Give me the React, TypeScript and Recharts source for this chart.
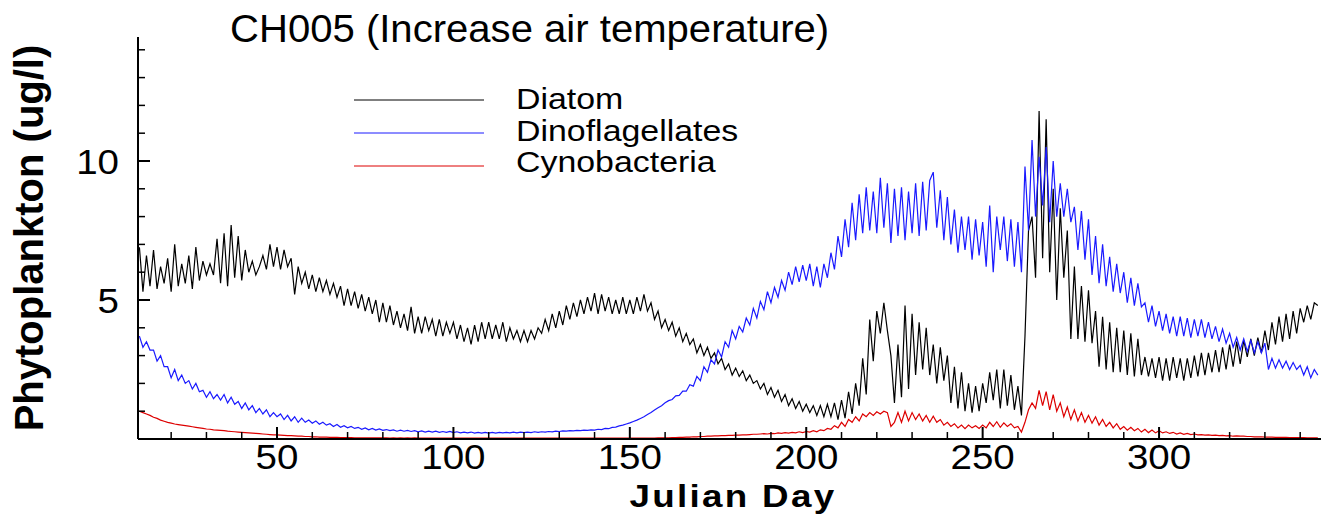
import React from "react";
import { LineChart, Line, XAxis, YAxis } from "recharts";

// daily values, starting at Julian day 11
const FIRST_DAY = 11;

const diatom = [
  6.9, 5.3, 6.6, 5.5, 6.8, 5.4, 6.2, 5.6, 6.5, 5.3,
  7.0, 5.5, 6.3, 5.6, 6.6, 5.4, 6.9, 5.7, 6.4, 5.9,
  6.3, 5.9, 7.2, 5.6, 7.4, 5.5, 7.7, 5.8, 7.3, 5.7,
  6.8, 6.0, 6.4, 5.9, 6.2, 6.6, 6.1, 7.0, 6.2, 6.9,
  6.1, 6.8, 6.2, 6.5, 5.2, 6.2, 5.6, 6.0, 5.4, 5.9,
  5.3, 5.8, 5.3, 5.7, 5.2, 5.6, 5.1, 5.5, 4.8, 5.4,
  4.8, 5.3, 4.7, 5.2, 4.6, 5.1, 4.5, 5.0, 4.2, 4.9,
  4.2, 4.8, 4.1, 4.6, 4.0, 4.5, 3.9, 4.75, 3.8, 4.4,
  3.8, 4.4, 3.9, 4.3, 3.7, 4.3, 3.7, 4.2, 3.8, 4.2,
  3.6, 4.1, 3.5, 4.0, 3.4, 4.1, 3.5, 4.2, 3.6, 4.2,
  3.6, 4.1, 3.6, 4.2, 3.5, 4.0, 3.6, 3.9, 3.5, 3.9,
  3.5, 3.9, 3.6, 4.0, 3.8, 4.3, 3.9, 4.5, 4.0, 4.6,
  4.1, 4.8, 4.3, 4.9, 4.4, 5.0, 4.5, 5.1, 4.6, 5.25,
  4.5, 5.2, 4.6, 5.1, 4.5, 5.0, 4.5, 5.1, 4.5, 5.0,
  4.5, 5.1, 4.6, 5.2, 4.6, 4.9, 4.3, 4.6, 4.0, 4.3,
  3.9, 4.2, 3.7, 4.0, 3.5, 3.8, 3.4, 3.6, 3.1, 3.4,
  3.0, 3.3, 2.9, 3.1, 2.7, 2.9, 2.5, 2.7, 2.3, 2.55,
  2.25, 2.45, 2.1, 2.3, 2.0, 2.1, 1.8, 2.0, 1.6, 1.85,
  1.5, 1.75, 1.35, 1.6, 1.2, 1.45, 1.1, 1.35, 1.0, 1.25,
  0.95, 1.2, 0.85, 1.2, 0.8, 1.25, 0.8, 1.3, 0.7, 1.4,
  0.75, 1.7, 0.9, 2.0, 1.2, 2.9, 1.6, 4.3, 2.8, 4.6,
  3.8, 4.9, 3.9, 3.0, 1.3, 3.4, 1.5, 4.8, 1.8, 4.5,
  2.3, 4.2, 2.5, 4.0, 2.3, 3.4, 2.0, 3.3, 2.1, 3.0,
  1.3, 2.6, 1.1, 2.4, 1.0, 2.0, 0.95, 1.9, 1.0, 2.0,
  1.3, 2.4, 1.4, 2.5, 1.1, 2.5, 1.2, 2.3, 1.05, 1.9,
  0.85, 3.7, 7.5, 8.0, 5.8, 11.8, 6.5, 11.5, 6.0, 9.0,
  5.0, 8.3, 5.8, 7.5, 3.6, 6.2, 3.6, 5.5, 3.5, 5.35,
  3.45, 4.6, 2.6, 4.4, 2.5, 4.2, 2.4, 4.0, 2.4, 3.9,
  2.3, 3.8, 2.25, 3.6, 2.3, 2.95, 2.25, 2.9, 2.2, 2.95,
  2.1, 2.9, 2.1, 2.95, 2.2, 2.9, 2.1, 2.9, 2.2, 3.0,
  2.25, 3.1, 2.3, 3.1, 2.4, 3.2, 2.4, 3.3, 2.5, 3.4,
  2.6, 3.5, 2.7, 3.55, 2.95, 3.6, 3.0, 3.65, 3.1, 3.9,
  3.2, 4.2, 3.4, 4.4, 3.5, 4.5, 3.6, 4.6, 3.8, 4.7,
  4.2, 4.8, 4.3, 4.9, 4.8,
];

const dinoflagellates = [
  3.7, 3.3, 3.5, 3.2, 3.2, 2.8, 3.0, 2.6, 2.6, 2.2,
  2.5, 2.1, 2.3, 2.0, 2.1, 1.8, 2.0, 1.7, 1.75, 1.5,
  1.7, 1.45, 1.6, 1.4, 1.6, 1.3, 1.5, 1.25, 1.35, 1.1,
  1.3, 1.05, 1.2, 0.95, 1.1, 0.9, 1.05, 0.8, 0.95, 0.8,
  0.9, 0.7, 0.85, 0.65, 0.8, 0.6, 0.75, 0.6, 0.68, 0.57,
  0.65, 0.53, 0.6, 0.5, 0.55, 0.45, 0.52, 0.42, 0.48, 0.4,
  0.45, 0.38, 0.42, 0.35, 0.4, 0.33, 0.38, 0.32, 0.36, 0.31,
  0.34, 0.3, 0.33, 0.28, 0.32, 0.28, 0.31, 0.27, 0.3, 0.26,
  0.29, 0.25, 0.28, 0.25, 0.28, 0.24, 0.27, 0.24, 0.27, 0.23,
  0.26, 0.22, 0.25, 0.22, 0.25, 0.21, 0.24, 0.21, 0.24, 0.21,
  0.24, 0.21, 0.24, 0.22, 0.24, 0.22, 0.25, 0.22, 0.25, 0.23,
  0.25, 0.23, 0.26, 0.24, 0.26, 0.25, 0.27, 0.26, 0.28, 0.27,
  0.29, 0.28, 0.3, 0.29, 0.31, 0.3, 0.32, 0.31, 0.33, 0.32,
  0.35, 0.34, 0.38, 0.37, 0.42, 0.43, 0.47, 0.5, 0.54, 0.58,
  0.63, 0.68, 0.74, 0.8, 0.88, 0.95, 1.04, 1.12, 1.2, 1.3,
  1.38, 1.42, 1.55, 1.57, 1.72, 1.72, 1.95, 1.9, 2.25, 2.1,
  2.6, 2.4, 2.85, 2.7, 3.2, 2.95, 3.5, 3.3, 3.9, 3.6,
  4.05, 3.85, 4.35, 4.1, 4.7, 4.35, 4.95, 4.65, 5.3, 4.9,
  5.45, 5.1, 5.7, 5.35, 6.0, 5.55, 6.2, 5.65, 6.25, 5.7,
  6.3, 5.5, 6.2, 5.45, 6.3, 5.8, 6.7, 6.1, 7.3, 6.55,
  7.9, 6.9, 8.5, 7.15, 8.8, 7.4, 9.05, 7.5, 8.9, 7.4,
  9.4, 7.6, 9.2, 7.05, 9.0, 7.3, 9.05, 7.15, 8.9, 7.4,
  9.2, 7.3, 9.25, 7.5, 9.3, 9.6, 7.6, 8.95, 7.15, 8.7,
  7.0, 8.25, 6.7, 8.0, 6.8, 8.0, 6.45, 7.9, 6.6, 7.8,
  6.2, 8.4, 6.0, 8.0, 6.8, 8.0, 6.4, 7.9, 6.2, 7.8,
  6.0, 9.8, 7.5, 10.75, 8.0, 10.15, 8.4, 10.5, 7.8, 10.0,
  8.0, 9.2, 8.0, 9.0, 7.8, 8.35, 6.8, 8.2, 6.45, 7.9,
  5.9, 7.3, 5.6, 7.0, 5.5, 6.55, 5.3, 6.3, 5.25, 6.0,
  4.9, 5.8, 4.8, 5.6, 4.75, 4.9, 4.2, 4.8, 4.05, 4.6,
  3.9, 4.5, 3.8, 4.4, 3.7, 4.4, 3.7, 4.35, 3.65, 4.3,
  3.7, 4.3, 3.65, 4.2, 3.6, 4.05, 3.5, 3.95, 3.45, 3.8,
  3.3, 3.65, 3.2, 3.6, 3.15, 3.55, 3.1, 3.5, 3.1, 3.45,
  2.5, 2.9, 2.55, 2.85, 2.55, 2.8, 2.5, 2.75, 2.5, 2.65,
  2.3, 2.6, 2.2, 2.5, 2.3,
];

const cynobacteria = [
  1.0, 0.95, 0.9, 0.85, 0.78, 0.74, 0.68, 0.64, 0.6, 0.57,
  0.54, 0.52, 0.5, 0.48, 0.46, 0.44, 0.42, 0.4, 0.38, 0.36,
  0.35, 0.33, 0.32, 0.31, 0.3, 0.28, 0.27, 0.26, 0.25, 0.24,
  0.23, 0.22, 0.21, 0.2, 0.19, 0.18, 0.17, 0.16, 0.15, 0.15,
  0.14, 0.13, 0.12, 0.12, 0.11, 0.1, 0.1, 0.09, 0.09, 0.08,
  0.08, 0.07, 0.07, 0.07, 0.06, 0.06, 0.06, 0.05, 0.05, 0.05,
  0.05, 0.04, 0.04, 0.04, 0.04, 0.04, 0.04, 0.04, 0.04, 0.04,
  0.04, 0.03, 0.04, 0.03, 0.04, 0.03, 0.04, 0.03, 0.04, 0.03,
  0.03, 0.03, 0.03, 0.03, 0.03, 0.03, 0.03, 0.03, 0.03, 0.03,
  0.03, 0.03, 0.03, 0.03, 0.03, 0.03, 0.03, 0.03, 0.03, 0.03,
  0.03, 0.03, 0.03, 0.03, 0.03, 0.03, 0.03, 0.03, 0.03, 0.03,
  0.03, 0.03, 0.03, 0.03, 0.03, 0.03, 0.03, 0.03, 0.03, 0.03,
  0.03, 0.03, 0.03, 0.03, 0.03, 0.03, 0.03, 0.03, 0.03, 0.03,
  0.03, 0.03, 0.03, 0.03, 0.03, 0.03, 0.03, 0.03, 0.03, 0.03,
  0.03, 0.03, 0.03, 0.03, 0.03, 0.03, 0.03, 0.04, 0.04, 0.04,
  0.04, 0.05, 0.05, 0.06, 0.06, 0.07, 0.07, 0.08, 0.08, 0.09,
  0.09, 0.1, 0.1, 0.11, 0.11, 0.12, 0.12, 0.13, 0.13, 0.14,
  0.14, 0.15, 0.15, 0.16, 0.17, 0.17, 0.18, 0.19, 0.18, 0.2,
  0.19, 0.22, 0.2, 0.23, 0.21, 0.24, 0.22, 0.26, 0.23, 0.27,
  0.25, 0.3, 0.26, 0.33, 0.3, 0.38, 0.35, 0.48, 0.4, 0.6,
  0.45, 0.7, 0.6, 0.8, 0.65, 0.9, 0.8, 0.95, 0.85, 0.98,
  0.9, 1.0, 0.95, 0.45, 0.6, 0.95, 0.6, 1.0, 0.65, 0.95,
  0.7, 0.9, 0.65, 0.85, 0.6, 0.82, 0.6, 0.7, 0.5, 0.6,
  0.45, 0.55, 0.4, 0.5, 0.37, 0.5, 0.4, 0.48, 0.38, 0.5,
  0.4, 0.6, 0.45, 0.62, 0.42, 0.58, 0.45, 0.55, 0.4, 0.45,
  0.25, 0.6, 1.05, 1.3, 1.1, 1.75, 1.2, 1.7, 1.05, 1.6,
  1.0, 1.3, 0.8, 1.15, 0.7, 1.05, 0.65, 0.95, 0.6, 0.85,
  0.57, 0.8, 0.5, 0.7, 0.45, 0.6, 0.4, 0.55, 0.35, 0.45,
  0.32, 0.42, 0.3, 0.38, 0.25, 0.35, 0.23, 0.32, 0.22, 0.3,
  0.22, 0.26, 0.2, 0.24, 0.18, 0.22, 0.17, 0.2, 0.16, 0.18,
  0.15, 0.16, 0.14, 0.15, 0.13, 0.14, 0.12, 0.13, 0.11, 0.12,
  0.1, 0.11, 0.1, 0.1, 0.09, 0.09, 0.08, 0.08, 0.08, 0.07,
  0.07, 0.07, 0.06, 0.06, 0.06, 0.06, 0.05, 0.05, 0.05, 0.05,
  0.05, 0.04, 0.04, 0.04, 0.04,
];

const xTicks = [20, 30, 40, 50, 60, 70, 80, 90, 100, 110, 120, 130, 140, 150, 160, 170, 180, 190, 200, 210, 220, 230, 240, 250, 260, 270, 280, 290, 300, 310, 320, 330, 340];
const xLabels = [50, 100, 150, 200, 250, 300];
const yTicks = [1, 2, 3, 4, 5, 6, 7, 8, 9, 10, 11, 12, 13, 14];
const yLabels = [5, 10];

const seriesNames = ["Diatom", "Dinoflagellates", "Cynobacteria"];
const seriesKeys = ["diatom", "dino", "cyno"];
const seriesColors = ["#000000", "#1a1aff", "#dd0000"];

const data = diatom.map((d, i) => ({
  day: FIRST_DAY + i,
  diatom: d,
  dino: dinoflagellates[i],
  cyno: cynobacteria[i],
}));

const FONT = "'Liberation Sans', Arial, Helvetica, sans-serif";

// the source plot stretches its glyphs a bit sideways
const Stretched = ({ x, y, sx, anchor, size, bold, spacing, children }: any) => (
  <text
    transform={`translate(${x},${y}) scale(${sx},1)`}
    textAnchor={anchor || "start"}
    fontSize={size}
    fontWeight={bold ? "bold" : "normal"}
    letterSpacing={spacing || 0}
    fontFamily={FONT}
    fill="#000"
  >
    {children}
  </text>
);

// ticks point inward; only the major ones carry labels
const XTick = (props: any) => {
  const { x, y, payload } = props;
  const major = xLabels.includes(payload.value);
  return (
    <g>
      <line x1={x} y1={y} x2={x} y2={y - (major ? 12 : 7)} stroke="#000" strokeWidth={major ? 2 : 1.5} />
      {major && (
        <Stretched x={x} y={y + 30} sx={1.1} anchor="middle" size={35}>
          {payload.value}
        </Stretched>
      )}
    </g>
  );
};

const YTick = (props: any) => {
  const { x, y, payload } = props;
  const major = yLabels.includes(payload.value);
  return (
    <g>
      <line x1={x} y1={y} x2={x + (major ? 12 : 7)} y2={y} stroke="#000" strokeWidth={major ? 2 : 1.5} />
      {major && (
        <Stretched x={119} y={y + 13} sx={1.1} anchor="end" size={35}>
          {payload.value}
        </Stretched>
      )}
    </g>
  );
};

const App = () => {
  return (
    <div style={{ position: "absolute", left: 0, top: 0, width: 1321, height: 514, background: "#fff" }}>
      <LineChart width={1321} height={514} data={data} margin={{ top: 37, right: 0, bottom: 0, left: 0 }}>
        <XAxis
          dataKey="day"
          type="number"
          domain={[10.6, 345.9]}
          allowDataOverflow
          ticks={xTicks}
          interval={0}
          height={75}
          tickSize={0}
          tickMargin={0}
          tickLine={false}
          tick={<XTick />}
          axisLine={{ stroke: "#000", strokeWidth: 2 }}
        />
        <YAxis
          type="number"
          domain={[0, 14.46]}
          allowDataOverflow
          ticks={yTicks}
          interval={0}
          width={138}
          tickSize={0}
          tickMargin={0}
          tickLine={false}
          tick={<YTick />}
          axisLine={{ stroke: "#000", strokeWidth: 2 }}
        />
        {seriesKeys.map((k, i) => (
          <Line
            key={k}
            type="linear"
            dataKey={k}
            name={seriesNames[i]}
            stroke={seriesColors[i]}
            strokeWidth={1.2}
            dot={false}
            isAnimationActive={false}
          />
        ))}
        <Stretched x={230} y={42} sx={1.055} size={38}>
          CH005 (Increase air temperature)
        </Stretched>
        <Stretched x={733} y={507} sx={1.15} anchor="middle" size={32} bold spacing={2}>
          Julian Day
        </Stretched>
        <text
          x={43}
          y={238}
          textAnchor="middle"
          fontSize={40}
          fontWeight="bold"
          fontFamily={FONT}
          fill="#000"
          transform="rotate(-90 43 238)"
        >
          Phytoplankton (ug/l)
        </text>
        {seriesNames.map((n, i) => (
          <g key={n}>
            <line x1={354} x2={484} y1={100 + i * 33} y2={100 + i * 33} stroke={seriesColors[i]} strokeWidth={1} />
            <Stretched x={516} y={109 + i * 31.5} sx={1.13} size={30}>
              {n}
            </Stretched>
          </g>
        ))}
      </LineChart>
    </div>
  );
};

export default App;
